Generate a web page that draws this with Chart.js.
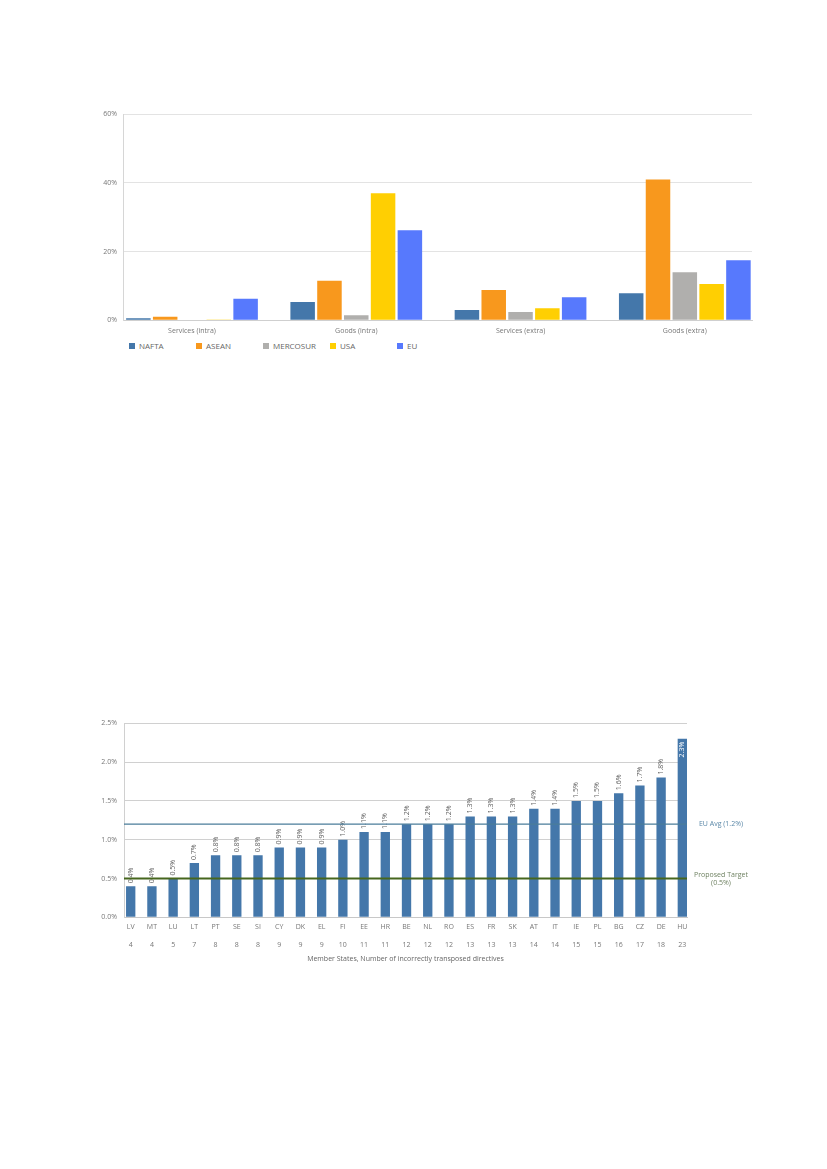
<!DOCTYPE html>
<html>
<head>
<meta charset="utf-8">
<script src="https://cdn.jsdelivr.net/npm/chart.js@4.4.1/dist/chart.umd.min.js"></script>
<style>
  body { margin: 0; background: #fff; font-family: "Open Sans", sans-serif; }
  #page { position: relative; width: 827px; height: 1169px; overflow: hidden; }
  .box { position: absolute; }
  #legend { position: absolute; left: 129px; top: 341px; font-size: 8px; color: #666; font-weight: normal; }
  .item { position: absolute; top: 0; white-space: nowrap; }
  .sw { position: absolute; left: 0; top: 2px; width: 6px; height: 6px; }
  .lb { position: absolute; left: 10px; top: 0; line-height: 10px; color: #666; }
</style>
</head>
<body>
<div id="page">
  <div class="box" style="left:90px; top:104px; width:670px; height:236px;">
    <canvas id="tradeChart"></canvas>
  </div>
  <div id="legend"></div>
  <div class="box" style="left:90px; top:712px; width:700px; height:256px;">
    <canvas id="statesChart"></canvas>
  </div>
</div>
<script>
// top chart data (% share)
const tradeCategories = ['Services (intra)', 'Goods (intra)', 'Services (extra)', 'Goods (extra)'];
const tradeSeries = ['NAFTA', 'ASEAN', 'MERCOSUR', 'USA', 'EU'];
const nafta = [0.6, 5.3, 3.0, 7.9];
const asean = [1.0, 11.5, 8.8, 41.0];
const mercosur = [0, 1.5, 2.4, 14.0];
const usa = [0.1, 37.0, 3.5, 10.6];
const eu = [6.3, 26.2, 6.7, 17.5];
const tradeTicks = [0, 20, 40, 60];

// bottom chart data
const states = ['LV', 'MT', 'LU', 'LT', 'PT', 'SE', 'SI', 'CY', 'DK', 'EL', 'FI', 'EE', 'HR', 'BE',
                'NL', 'RO', 'ES', 'FR', 'SK', 'AT', 'IT', 'IE', 'PL', 'BG', 'CZ', 'DE', 'HU'];
const wrongDirectives = [4, 4, 5, 7, 8, 8, 8, 9, 9, 9, 10, 11, 11, 12, 12, 12, 13, 13, 13, 14, 14, 15, 15, 16, 17, 18, 23];
const deficit = [0.4, 0.4, 0.5, 0.7, 0.8, 0.8, 0.8, 0.9, 0.9, 0.9, 1.0, 1.1, 1.1, 1.2,
                 1.2, 1.2, 1.3, 1.3, 1.3, 1.4, 1.4, 1.5, 1.5, 1.6, 1.7, 1.8, 2.3];
const deficitTicks = [0, 0.5, 1.0, 1.5, 2.0, 2.5];
const refValues = [1.2, 0.5];
const refLabels = [['EU Avg (1.2%)'], ['Proposed Target', '(0.5%)']];

Chart.defaults.font.family = '"Open Sans", sans-serif';
Chart.defaults.font.size = 7;
Chart.defaults.color = '#777';
Chart.defaults.animation = false;

const seriesColors = ['#4477aa', '#f8981d', '#b0afad', '#ffcf02', '#5779fd'];
const seriesValues = [nafta, asean, mercosur, usa, eu];

// html legend, fixed spacing like the original
const legend = document.getElementById('legend');
tradeSeries.forEach((name, i) => {
    const item = document.createElement('div');
    item.className = 'item';
    item.style.left = (i * 67) + 'px';
    item.innerHTML = '<span class="sw" style="background:' + seriesColors[i] + '"></span><span class="lb">' + name + '</span>';
    legend.appendChild(item);
});

new Chart(document.getElementById('tradeChart'), {
    type: 'bar',
    data: {
        datasets: tradeSeries.map((name, i) => ({
            label: name,
            data: seriesValues[i].map((v, k) => ({ x: k, y: v })),
            backgroundColor: seriesColors[i],
            categoryPercentage: 0.816,
            barPercentage: 0.914
        }))
    },
    options: {
        responsive: true,
        maintainAspectRatio: false,
        layout: { padding: { top: 8, right: 8, bottom: 0, left: 0 } },
        plugins: { legend: { display: false }, tooltip: { enabled: false } },
        scales: {
            x: {
                type: 'linear',
                offset: false,
                min: -0.42,
                max: 3.409,
                afterFit: s => { s.height = 19.7; },
                grid: { display: false, drawTicks: false, offset: false },
                border: { display: true, color: '#cfcfcf' },
                ticks: {
                    stepSize: 1,
                    includeBounds: false,
                    autoSkip: false,
                    maxRotation: 0,
                    padding: 6,
                    color: '#777',
                    callback: v => Number.isInteger(v) ? tradeCategories[v] : null
                }
            },
            y: {
                min: 0,
                max: 60,
                afterFit: s => { s.width = 33; },
                afterBuildTicks: s => { s.ticks = tradeTicks.map(v => ({ value: v })); },
                grid: { color: '#e3e3e3', drawTicks: false },
                border: { display: true, color: '#d6d6d6' },
                ticks: { padding: 6, callback: v => v + '%' }
            }
        }
    }
});

// value labels rotated over each bar
const barLabels = {
    id: 'barLabels',
    afterDatasetsDraw(chart) {
        const { ctx, chartArea } = chart;
        const meta = chart.getDatasetMeta(0);
        ctx.save();
        ctx.font = '7px "Open Sans", sans-serif';
        ctx.textBaseline = 'middle';
        meta.data.forEach((bar, i) => {
            const txt = deficit[i].toFixed(1) + '%';
            const w = ctx.measureText(txt).width;
            ctx.save();
            ctx.translate(bar.x, bar.y);
            ctx.rotate(-Math.PI / 2);
            if (bar.y - w - 4 < chartArea.top) {
                ctx.fillStyle = '#fff';
                ctx.textAlign = 'right';
                ctx.fillText(txt, -3, 0);
            } else {
                ctx.fillStyle = '#666';
                ctx.textAlign = 'left';
                ctx.fillText(txt, 3, 0);
            }
            ctx.restore();
        });
        ctx.restore();
    }
};

const refColors = ['#4a7d9a', '#46661e'];
const refTextColors = ['#5b88a8', '#6f8262'];
const refWidths = [1.2, 2];

const refLines = {
    id: 'refLines',
    afterDatasetsDraw(chart) {
        const { ctx, chartArea, scales: { y } } = chart;
        ctx.save();
        ctx.font = '7px "Open Sans", sans-serif';
        ctx.textAlign = 'center';
        ctx.textBaseline = 'middle';
        refValues.forEach((val, i) => {
            const py = y.getPixelForValue(val);
            ctx.strokeStyle = refColors[i];
            ctx.lineWidth = refWidths[i];
            ctx.beginPath();
            ctx.moveTo(chartArea.left, py);
            ctx.lineTo(chartArea.right, py);
            ctx.stroke();
            ctx.fillStyle = refTextColors[i];
            const lines = refLabels[i];
            const start = py - (lines.length - 1) * 4;
            lines.forEach((t, k) => ctx.fillText(t, chartArea.right + 34, start + k * 8));
        });
        ctx.restore();
    }
};

new Chart(document.getElementById('statesChart'), {
    type: 'bar',
    data: {
        datasets: [{
            label: 'Transposition deficit',
            data: deficit.map((v, k) => ({ x: k, y: v })),
            backgroundColor: '#4477aa',
            categoryPercentage: 1,
            barPercentage: 0.44
        }]
    },
    options: {
        responsive: true,
        maintainAspectRatio: false,
        layout: { padding: { top: 11.3, right: 103, bottom: 0, left: 0 } },
        plugins: { legend: { display: false }, tooltip: { enabled: false } },
        scales: {
            x: {
                type: 'linear',
                offset: false,
                min: -0.316,
                max: 26.22,
                afterFit: s => { s.height = 50.7; },
                grid: { display: false, drawTicks: false, offset: false },
                border: { display: true, color: '#c8c8c8' },
                title: {
                    display: true,
                    text: 'Member States, Number of incorrectly transposed directives',
                    color: '#666',
                    font: { size: 7 },
                    padding: { top: 0, bottom: 4.5 }
                },
                ticks: {
                    stepSize: 1,
                    includeBounds: false,
                    autoSkip: false,
                    maxRotation: 0,
                    padding: 0,
                    font: { size: 7, lineHeight: 2.67 },
                    callback: v => Number.isInteger(v) ? [states[v], String(wrongDirectives[v])] : null
                }
            },
            y: {
                min: 0,
                max: 2.5,
                afterFit: s => { s.width = 34; },
                afterBuildTicks: s => { s.ticks = deficitTicks.map(v => ({ value: v })); },
                grid: { color: '#d0d0d0', drawTicks: false },
                border: { display: true, color: '#d0d0d0' },
                ticks: { padding: 7, callback: v => v.toFixed(1) + '%' }
            }
        }
    },
    plugins: [barLabels, refLines]
});
</script>
</body>
</html>
